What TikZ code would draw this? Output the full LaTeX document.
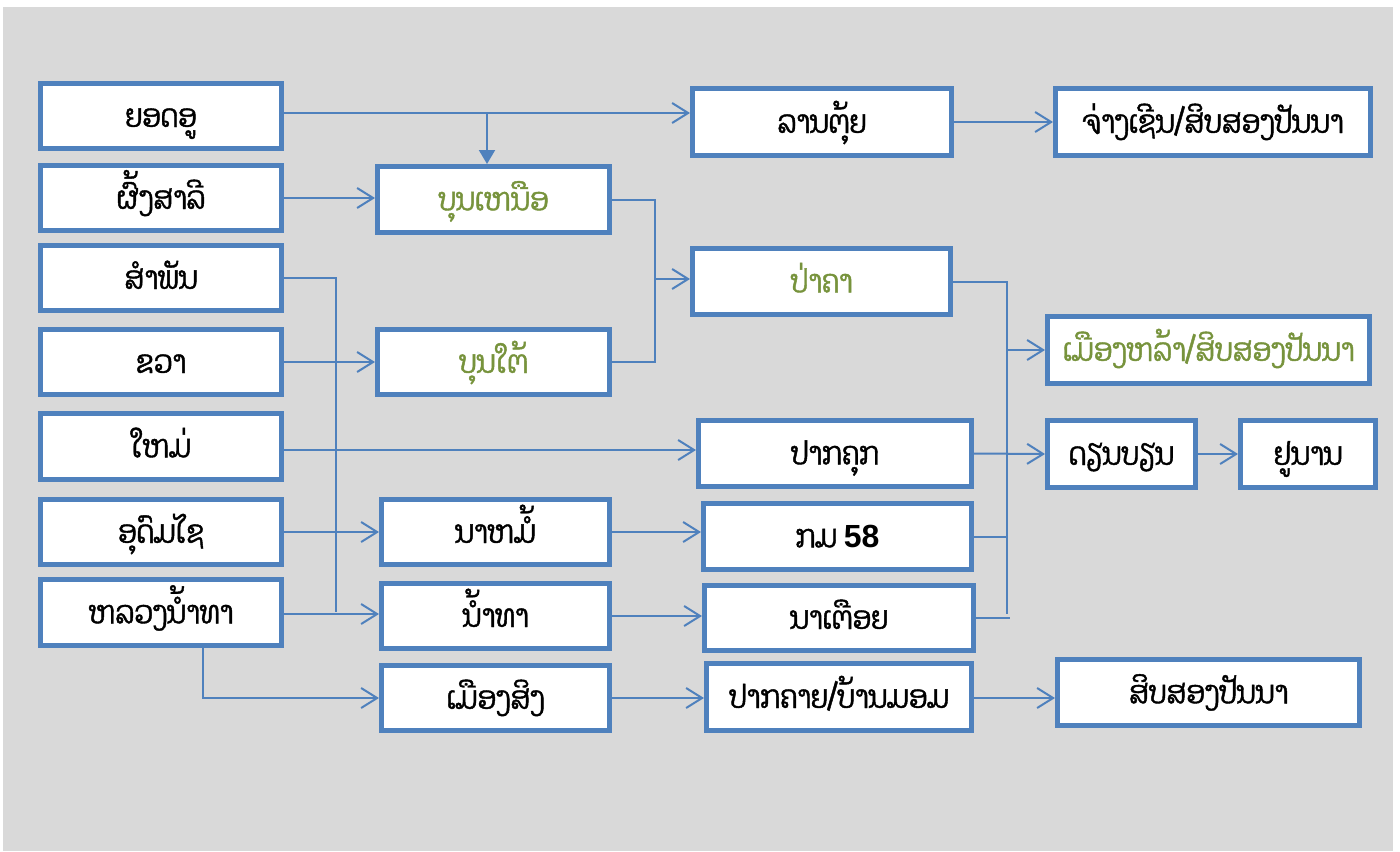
\documentclass[tikz,border=0pt]{standalone}
\usepackage{fontspec}
\setmainfont{Liberation Sans}
\newfontfamily\lao[Script=Lao,FakeStretch=0.85,FakeBold=1.3]{Dhyana}
\usetikzlibrary{arrows.meta}
\definecolor{bx}{HTML}{4F81BD}
\definecolor{gr}{HTML}{77933C}
\definecolor{bg}{HTML}{D9D9D9}
\begin{document}
\begin{tikzpicture}[x=0.5pt,y=-0.5pt,
 box/.style={draw=bx, line width=2.5pt, fill=white, inner sep=0pt, text height=13pt, text depth=2pt, font=\lao\fontsize{16}{18}\selectfont, text=black},
 sz/.style 2 args={minimum width=#1*0.5pt, minimum height=#2*0.5pt},
 grn/.style={text=gr},
 ln/.style={draw=bx, line width=1pt},
 arr/.style={ln, -{Straight Barb[length=8pt,width=10pt]}},
]
\useasboundingbox (0,0) rectangle (1400,851);
\fill[bg] (3,7) rectangle (1393,851);
% left column
\node[box, sz={241}{65}] (A) at (161,116) {ຍອດອູ};
\node[box, sz={241}{65}] (B) at (161,198) {ຜົ້ງສາລີ};
\node[box, sz={241}{65}] (C) at (161,278) {ສຳພັນ};
\node[box, sz={241}{65}] (D) at (161,362) {ຂວາ};
\node[box, sz={241}{66}] (E) at (161,446.5) {ໃຫມ່};
\node[box, sz={241}{65}] (F) at (161,532) {ອຸດົມໄຊ};
\node[box, sz={241}{66}] (G) at (161,612.5) {ຫລວງນ້ຳທາ};
% middle column
\node[box, grn, sz={232}{66}] (H) at (493.5,199.5) {ບຸນເຫນືອ};
\node[box, grn, sz={232}{65}] (I) at (493.5,362) {ບຸນໃຕ້};
\node[box, sz={228}{65}] (J) at (495.5,532) {ນາຫມໍ້};
\node[box, sz={228}{65}] (K) at (495.5,616) {ນ້ຳທາ};
\node[box, sz={228}{65}] (L) at (495.5,698) {ເມືອງສິງ};
% right-middle column
\node[box, sz={259}{67}] (M) at (822,122) {ລານຕຸ້ຍ};
\node[box, grn, sz={258}{66}] (N) at (821.5,281.5) {ປ່າຄາ};
\node[box, sz={273}{66}] (O) at (835,453.5) {ປາກຄຸກ};
\node[box, sz={268}{66}] (P) at (837.5,536.5) {ກມ {\rmfamily\bfseries 58}};
\node[box, sz={269}{65}] (Q) at (839,618) {ນາເຕືອຍ};
\node[box, sz={265}{67}] (R) at (839,697) {ປາກຄາຍ/ບ້ານມອມ};
% right column
\node[box, sz={315}{67}] (S) at (1213,122) {ຈ່າງເຊີນ/ສິບສອງປັນນາ};
\node[box, grn, sz={322}{67}] (T) at (1208.5,350) {ເມືອງຫລ້າ/ສິບສອງປັນນາ};
\node[box, sz={148}{67}] (U) at (1121.5,454) {ດຽນບຽນ};
\node[box, sz={135}{67}] (V) at (1308,454) {ຢູນານ};
\node[box, sz={302}{66}] (W) at (1208.5,692.5) {ສິບສອງປັນນາ};
% helper coordinates
\coordinate (yA) at (0,113);
\coordinate (jA) at (487,113);
\coordinate (k1) at (655,279);
\coordinate (k2) at (336,612);
\coordinate (yE) at (0,450);
\coordinate (yG) at (0,614);
\coordinate (xG) at (203,0);
\coordinate (bus) at (1007,614);
\coordinate (yT) at (0,350);
\coordinate (yR) at (0,698);
% connectors
\draw[arr] (A.east |- yA) -- (M.west |- yA);
\draw[ln, -{Triangle[length=7pt,width=8pt]}] (jA) -- (H.north -| jA);
\draw[arr] (B.east) -- (B.east -| H.west);
\draw[arr] (D.east) -- (I.west);
\draw[ln] (H.east) -| (k1) |- (I.east);
\draw[arr] (k1) -- (k1 -| N.west);
\draw[ln] (C.east) -| (k2);
\draw[arr] (E.east |- yE) -- (O.west |- yE);
\draw[arr] (F.east) -- (J.west);
\draw[arr] (G.east |- yG) -- (K.west |- yG);
\draw[arr] (G.south -| xG) |- (L.west);
\draw[arr] (J.east) -- (J.east -| P.west);
\draw[arr] (K.east) -- (K.east -| Q.west);
\draw[arr] (L.east) -- (L.east -| R.west);
\draw[arr] (M.east) -- (M.east -| S.west);
\draw[ln] (N.east) -| (bus);
\draw[arr] (bus |- yT) -- (T.west |- yT);
\draw[arr] (O.east) -- (U.west);
\draw[ln] (P.east) -- (P.east -| bus);
\draw[ln] (Q.east) -- ++(34,0);
\draw[arr] (U.east) -- (V.west);
\draw[arr] (R.east |- yR) -- (W.west |- yR);
\end{tikzpicture}
\end{document}
